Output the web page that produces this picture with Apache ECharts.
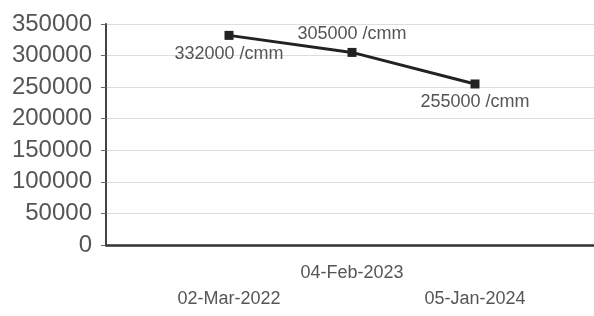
<!DOCTYPE html>
<html>
<head>
<meta charset="utf-8">
<script src="https://cdn.jsdelivr.net/npm/echarts@6/dist/echarts.min.js"></script>
<style>
  html, body { margin: 0; padding: 0; background: #fff; }
  #main { width: 594px; height: 316px; }
</style>
</head>
<body>
<div id="main"></div>
<script>
// dates, padded with an empty slot at each end
var dates = ['', '02-Mar-2022', '04-Feb-2023', '05-Jan-2024', ''];
var counts = ['-', 332000, 305000, 255000, '-'];
var labelPos = ['bottom', 'bottom', 'top', 'bottom', 'bottom'];
var yTicks = { min: 0, max: 350000, step: 50000 };

var myChart = echarts.init(document.getElementById('main'));

var seriesData = counts.map(function (v, i) {
    return { value: v, label: { position: labelPos[i] } };
});

myChart.setOption({
    animation: false,
    grid: { left: 106, top: 24, width: 492, height: 221, outerBoundsMode: 'none' },
    xAxis: {
        type: 'category',
        data: dates,
        boundaryGap: false,
        axisLine: { lineStyle: { color: '#333', width: 2.5 } },
        axisTick: { show: false },
        axisLabel: {
            interval: 0,
            margin: 15,
            fontFamily: 'Liberation Sans',
            fontSize: 18,
            color: '#555',
            lineHeight: 26,
            formatter: function (val, idx) {
                // stagger the labels: middle one higher
                return idx === 2 ? val : '\n' + val;
            }
        }
    },
    yAxis: {
        type: 'value',
        min: yTicks.min,
        max: yTicks.max,
        interval: yTicks.step,
        axisLine: { show: true, lineStyle: { color: '#444', width: 2 } },
        axisTick: { show: true, length: 5, lineStyle: { color: '#666' } },
        axisLabel: {
            margin: 14,
            fontFamily: 'Liberation Sans',
            fontSize: 24,
            color: '#555',
            formatter: function (v) { return String(v); }
        },
        splitLine: { lineStyle: { color: '#ddd', width: 1 } }
    },
    series: [{
        type: 'line',
        data: seriesData,
        symbol: 'rect',
        symbolSize: 9,
        itemStyle: { color: '#222' },
        lineStyle: { color: '#222', width: 3 },
        label: {
            show: true,
            distance: 5,
            fontFamily: 'Liberation Sans',
            fontSize: 18,
            color: '#555',
            formatter: function (p) { return p.value + ' /cmm'; }
        }
    }]
});
</script>
</body>
</html>
